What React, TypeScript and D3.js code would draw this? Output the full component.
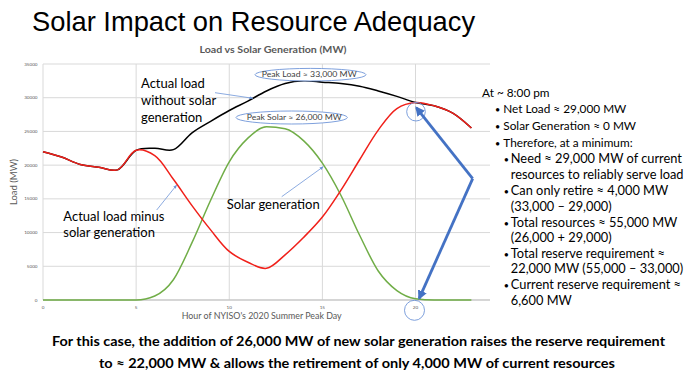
import React from 'react';
import * as d3 from 'd3';

const hours = [0, 1, 2, 3, 4, 5, 6, 7, 8, 9, 10, 11, 12, 13, 14, 15, 16, 17, 18, 19, 20, 21, 22, 23];
const actualLoad = [22000, 21200, 20100, 19700, 19300, 22200, 22500, 22300, 24800, 26500, 28100, 29500, 31000, 32100, 32500, 32300, 32100, 31700, 31000, 30200, 29300, 28800, 27700, 25500];
const netLoad = [22000, 21200, 20100, 19700, 19300, 22200, 21400, 17900, 14000, 10400, 7200, 5600, 4700, 6700, 9300, 12300, 16300, 20800, 25200, 28400, 29300, 28800, 27700, 25500];
const solarGen = [0, 0, 0, 0, 0, 0, 600, 3000, 8500, 14800, 20500, 24000, 25700, 25400, 23600, 20300, 15500, 9600, 4300, 1400, 200, 0, 0, 0];
const yTicks = [0, 5000, 10000, 15000, 20000, 25000, 30000, 35000];
const xTicks = [0, 5, 10, 15, 20];

const titleText = 'Solar Impact on Resource Adequacy';
const subtitleText = 'Load vs Solar Generation (MW)';
const yAxisTitle = 'Load (MW)';
const xAxisTitle = "Hour of NYISO's 2020 Summer Peak Day";
const peakLoadLabel = 'Peak Load ≈ 33,000 MW';
const peakSolarLabel = 'Peak Solar ≈ 26,000 MW';
const loadLabel = ['Actual load', 'without solar', 'generation'];
const netLabel = ['Actual load minus', 'solar generation'];
const solarLabel = 'Solar generation';
const bottomLines = [
  'For this case, the addition of 26,000 MW of new solar generation raises the reserve requirement',
  'to ≈ 22,000 MW & allows the retirement of only 4,000 MW of current resources',
];
const noteLines: { level: number; bullet: boolean; text: string }[] = [
  { level: 0, bullet: false, text: 'At ~ 8:00 pm' },
  { level: 1, bullet: true, text: 'Net Load ≈ 29,000 MW' },
  { level: 1, bullet: true, text: 'Solar Generation ≈ 0 MW' },
  { level: 1, bullet: true, text: 'Therefore, at a minimum:' },
  { level: 2, bullet: true, text: 'Need ≈ 29,000 MW of current' },
  { level: 2, bullet: false, text: 'resources to reliably serve load' },
  { level: 2, bullet: true, text: 'Can only retire ≈ 4,000 MW' },
  { level: 2, bullet: false, text: '(33,000 – 29,000)' },
  { level: 2, bullet: true, text: 'Total resources ≈ 55,000 MW' },
  { level: 2, bullet: false, text: '(26,000 + 29,000)' },
  { level: 2, bullet: true, text: 'Total reserve requirement ≈' },
  { level: 2, bullet: false, text: '22,000 MW (55,000 – 33,000)' },
  { level: 2, bullet: true, text: 'Current reserve requirement ≈' },
  { level: 2, bullet: false, text: '6,600 MW' },
];
const noteBaselines = [96.7, 113.3, 130, 146.7, 163.3, 179, 195, 211, 226.7, 242.3, 257.7, 273.3, 289.3, 305];

const SANS = 'Lato, "Open Sans", sans-serif';
const ARIAL = '"Liberation Sans", Arial, sans-serif';
const BLUE = '#4472c4';
const THIN = '#6f95d8';

export default function App() {
  const x = d3.scaleLinear().domain([0, 24]).range([43, 490]);
  const y = d3.scaleLinear().domain([0, 35000]).range([300, 64]);
  const mk = (vals: number[], curve: d3.CurveFactory) =>
    d3
      .line<number>()
      .x((_, i) => x(hours[i]))
      .y((d) => y(d))
      .curve(curve)(vals) || '';

  const apex = { x: x(23.07), y: y(18000) };
  const tipTop = { x: x(20.05), y: y(28500) };
  const tipBot = { x: x(20.2), y: y(250) };

  return (
    <svg width={693} height={375} style={{ position: 'absolute', left: 0, top: 0, background: '#fff' }}>
      <defs>
        <marker id="thinHead" viewBox="0 0 10 10" refX="9" refY="5" markerWidth="5" markerHeight="5" orient="auto">
          <path d="M0,1 L10,5 L0,9 z" fill={THIN} />
        </marker>
        <marker id="thickHead" viewBox="0 0 10 10" refX="8" refY="5" markerWidth="3.4" markerHeight="3.4" orient="auto">
          <path d="M0,0 L10,5 L0,10 z" fill={BLUE} />
        </marker>
      </defs>
      <rect x={0} y={0} width={693} height={375} fill="#fff" />

      {/* Title */}
      <text x={32} y={31} fontFamily={ARIAL} fontSize={27.3} fill="#000">
        {titleText}
      </text>
      <text x={273} y={52.5} textAnchor="middle" fontFamily={SANS} fontWeight={700} fontSize={9} fill="#595959" textLength={147} lengthAdjust="spacingAndGlyphs">
        {subtitleText}
      </text>

      {/* Gridlines */}
      {yTicks.map((t) => (
        <line key={'gy' + t} x1={x(0)} x2={x(24)} y1={y(t)} y2={y(t)} stroke="#d9d9d9" strokeWidth={1} />
      ))}
      {xTicks.map((t) => (
        <line key={'gx' + t} x1={x(t)} x2={x(t)} y1={y(0)} y2={y(35000)} stroke="#d9d9d9" strokeWidth={1} />
      ))}
      <line x1={x(0)} x2={x(24)} y1={y(0)} y2={y(0)} stroke="#bfbfbf" strokeWidth={1} />

      {/* Tick labels */}
      {yTicks.map((t) => (
        <text key={'ly' + t} x={37.5} y={y(t) + 1.6} textAnchor="end" fontFamily={SANS} fontSize={4.6} fill="#595959">
          {t}
        </text>
      ))}
      {xTicks.map((t) => (
        <text key={'lx' + t} x={x(t)} y={308.7} textAnchor="middle" fontFamily={SANS} fontSize={4.6} fill="#595959">
          {t}
        </text>
      ))}
      <text transform={`translate(17,182) rotate(-90)`} textAnchor="middle" fontFamily={SANS} fontSize={9.5} fill="#595959">
        {yAxisTitle}
      </text>
      <text x={261.7} y={319} textAnchor="middle" fontFamily={SANS} fontSize={8.5} fill="#595959" textLength={160} lengthAdjust="spacingAndGlyphs">
        {xAxisTitle}
      </text>

      {/* Series */}
      <path d={mk(actualLoad, d3.curveCatmullRom.alpha(0.5))} fill="none" stroke="#000" strokeWidth={1.5} />
      <path d={mk(solarGen, d3.curveMonotoneX)} fill="none" stroke="#70ad47" strokeWidth={1.5} />
      <path d={mk(netLoad, d3.curveCatmullRom.alpha(0.5))} fill="none" stroke="#f0201a" strokeWidth={1.5} />

      {/* Annotations */}
      {loadLabel.map((s, i) => (
        <text key={'ll' + i} x={141} y={88.3 + i * 16.7} fontFamily={SANS} fontSize={13} fill="#000">
          {s}
        </text>
      ))}
      <line x1={215} y1={92.7} x2={253} y2={98.3} stroke={THIN} strokeWidth={0.8} markerEnd="url(#thinHead)" />
      {netLabel.map((s, i) => (
        <text key={'nl' + i} x={63.3} y={220.7 + i * 16.6} fontFamily={SANS} fontSize={13} fill="#000">
          {s}
        </text>
      ))}
      <line x1={156.7} y1={210} x2={176.7} y2={185} stroke={THIN} strokeWidth={0.8} markerEnd="url(#thinHead)" />
      <text x={226.7} y={209} fontFamily={SANS} fontSize={13} fill="#000">
        {solarLabel}
      </text>
      <line x1={281.7} y1={196.7} x2={323.3} y2={166.7} stroke={THIN} strokeWidth={0.8} markerEnd="url(#thinHead)" />

      <ellipse cx={310.5} cy={74.7} rx={55.5} ry={6.3} fill="#fff" stroke={THIN} strokeWidth={0.9} />
      <text x={309.2} y={77.3} textAnchor="middle" fontFamily={SANS} fontSize={8} fill="#404040" textLength={95} lengthAdjust="spacingAndGlyphs">
        {peakLoadLabel}
      </text>
      <ellipse cx={291.7} cy={117.5} rx={55.7} ry={6.5} fill="#fff" stroke={THIN} strokeWidth={0.9} />
      <text x={294.2} y={120.2} textAnchor="middle" fontFamily={SANS} fontSize={8} fill="#404040" textLength={95} lengthAdjust="spacingAndGlyphs">
        {peakSolarLabel}
      </text>

      <circle cx={416} cy={111.7} r={9.3} fill="none" stroke={THIN} strokeWidth={0.9} />
      <circle cx={414.5} cy={310.3} r={10} fill="none" stroke={THIN} strokeWidth={0.9} />

      <line x1={apex.x} y1={apex.y} x2={tipTop.x} y2={tipTop.y} stroke={BLUE} strokeWidth={2.8} markerEnd="url(#thickHead)" />
      <line x1={apex.x} y1={apex.y} x2={tipBot.x} y2={tipBot.y} stroke={BLUE} strokeWidth={2.8} markerEnd="url(#thickHead)" />

      {/* Right notes */}
      {noteLines.map((l, i) => {
        const bx = l.level === 1 ? 495 : 503.8;
        const tx = l.level === 0 ? 482 : l.level === 1 ? 503.3 : 510.8;
        return (
          <g key={'note' + i}>
            {l.bullet && (
              <text x={bx} y={noteBaselines[i]} fontFamily={SANS} fontSize={9} fill="#000">
                •
              </text>
            )}
            <text x={tx} y={noteBaselines[i]} fontFamily={SANS} fontSize={l.level === 2 ? 12.8 : 11.8} fill="#000">
              {l.text}
            </text>
          </g>
        );
      })}

      {/* Bottom text */}
      <text x={358.5} y={346.3} textAnchor="middle" fontFamily={SANS} fontWeight={700} fontSize={14} fill="#000" textLength={613} lengthAdjust="spacingAndGlyphs">
        {bottomLines[0]}
      </text>
      <text x={357} y={367.8} textAnchor="middle" fontFamily={SANS} fontWeight={700} fontSize={14} fill="#000" textLength={516} lengthAdjust="spacingAndGlyphs">
        {bottomLines[1]}
      </text>
    </svg>
  );
}
